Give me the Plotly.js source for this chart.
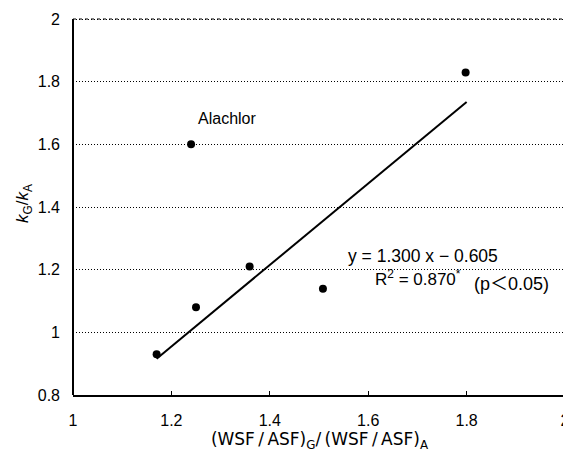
<!DOCTYPE html>
<html>
<head>
<meta charset="utf-8">
<script src="https://cdn.plot.ly/plotly-3.0.1.min.js"></script>
<style>
html,body{margin:0;padding:0;overflow:hidden;background:#fff;}
#chart{width:570px;height:452px;}
</style>
</head>
<body>
<div id="chart"></div>
<script>
// Data
var pointX = [1.170, 1.250, 1.359, 1.508, 1.240, 1.798];
var pointY = [0.930, 1.080, 1.210, 1.139, 1.600, 1.829];
var fitX = [1.170, 1.800];
var fitY = [0.916, 1.735];
var xTicks = [1, 1.2, 1.4, 1.6, 1.8, 2];
var xTickText = ['1', '1.2', '1.4', '1.6', '1.8', '2'];
var yTicks = [0.8, 1, 1.2, 1.4, 1.6, 1.8, 2];
var yTickText = ['0.8', '1', '1.2', '1.4', '1.6', '1.8', '2'];

var font = 'Liberation Sans, Arial, "Noto Sans CJK JP", sans-serif';
var wideFont = 'DejaVu Sans, Liberation Sans, sans-serif';
var yMax = yTicks[yTicks.length - 1];

var traces = [
  {x: pointX, y: pointY, type: 'scatter', mode: 'markers',
   marker: {color: '#000', size: 8}, showlegend: false, hoverinfo: 'skip'},
  {x: fitX, y: fitY, type: 'scatter', mode: 'lines',
   line: {color: '#000', width: 2}, showlegend: false, hoverinfo: 'skip'}
];

var layout = {
  width: 570, height: 452,
  margin: {l: 73, r: 4, t: 12, b: 57},
  paper_bgcolor: '#fff', plot_bgcolor: '#fff',
  font: {family: font, color: '#000', size: 16},
  xaxis: {
    range: [1, 2.002], tickvals: xTicks, ticktext: xTickText,
    showgrid: false, zeroline: false,
    showline: true, linecolor: '#000', linewidth: 2,
    ticks: 'inside', ticklen: 4, tickcolor: '#000', tickwidth: 1,
    ticklabelstandoff: 10,
    tickfont: {family: font, size: 16, color: '#000'},
    title: {text: '(WSF\u2009/\u2009ASF)<sub>G</sub>/\u2009(WSF\u2009/\u2009ASF)<sub>A</sub>',
            font: {family: wideFont, size: 17, color: '#000'}, standoff: 4}
  },
  yaxis: {
    range: [0.8, 2.0224], tickvals: yTicks, ticktext: yTickText,
    showgrid: true, gridcolor: '#000', gridwidth: 1, griddash: '1px,2px',
    zeroline: false,
    showline: false,
    ticks: '', ticklabelstandoff: 12,
    tickfont: {family: font, size: 16, color: '#000'},
    title: {text: '<i>k</i><sub>G</sub>/<i>k</i><sub>A</sub>',
            font: {family: font, size: 17, color: '#000'}, standoff: 4}
  },
  shapes: [
    {type: 'line', xref: 'paper', yref: 'y', x0: 0, x1: 1, y0: yMax, y1: yMax,
     line: {color: '#000', width: 1.2, dash: 'dot'}},
    {type: 'line', xref: 'paper', yref: 'y', x0: 0, x1: 0, y0: 0.8, y1: yMax,
     line: {color: '#000', width: 2}}
  ],
  annotations: [
    {xref: 'paper', yref: 'paper', x: (227-73)/493, y: (395-119)/383,
     text: 'Alachlor', showarrow: false, xanchor: 'center', yanchor: 'middle',
     font: {family: font, size: 16, color: '#000'}},
    {xref: 'paper', yref: 'paper', x: (346-73)/493, y: (395-256)/383,
     text: 'y = 1.300 x \u2212 0.605', showarrow: false, xanchor: 'left', yanchor: 'middle',
     font: {family: font, size: 17.5, color: '#000'}},
    {xref: 'paper', yref: 'paper', x: (373-73)/493, y: (395-278)/383,
     text: 'R<sup>2</sup> = 0.870<sup>*</sup>', showarrow: false, xanchor: 'left', yanchor: 'middle',
     font: {family: font, size: 17, color: '#000'}},
    {xref: 'paper', yref: 'paper', x: (472-73)/493, y: (395-284)/383,
     text: '(p\uFF1C0.05)', showarrow: false, xanchor: 'left', yanchor: 'middle',
     font: {family: font, size: 18, color: '#000'}}
  ]
};

Plotly.newPlot('chart', traces, layout, {staticPlot: true, displayModeBar: false});
</script>
</body>
</html>
